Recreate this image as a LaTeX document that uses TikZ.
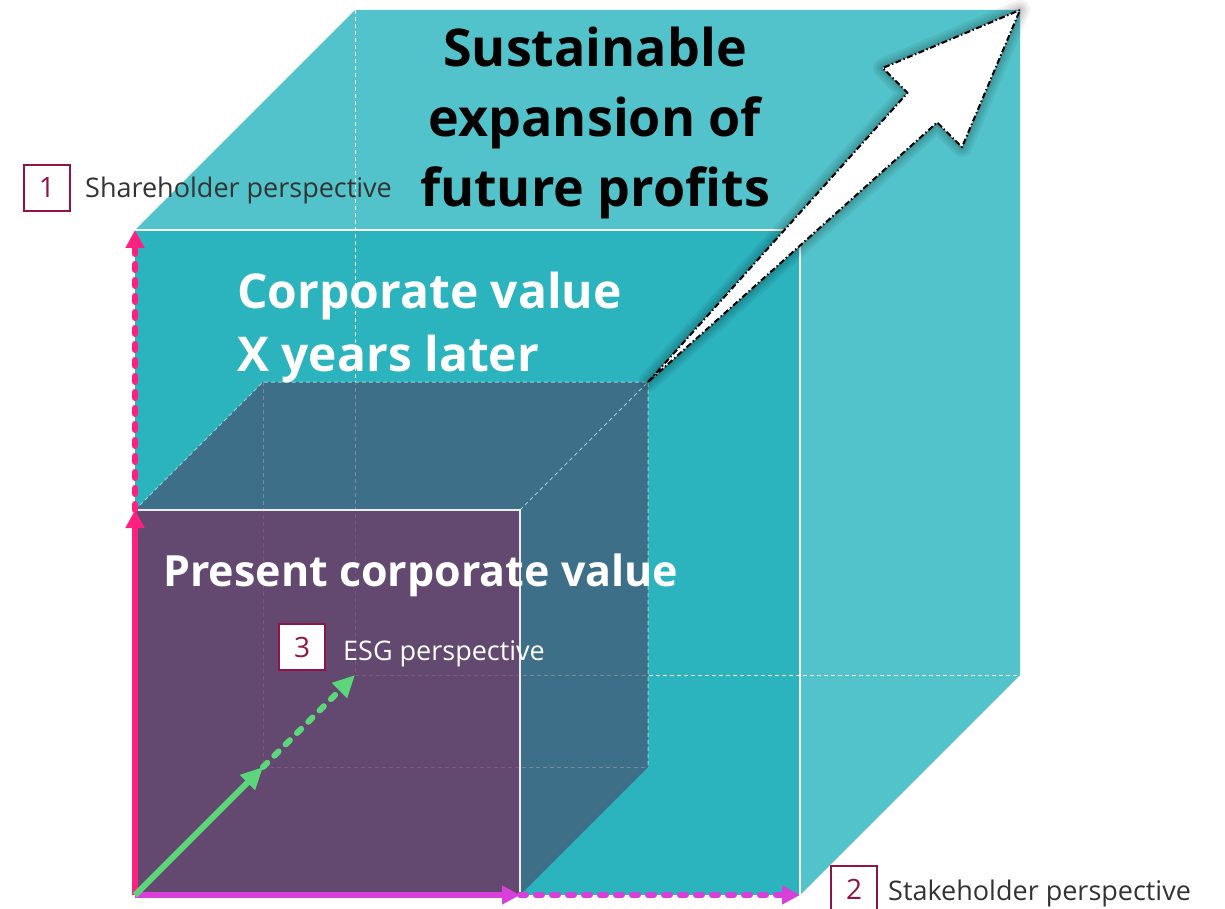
\documentclass[tikz,border=0pt]{standalone}
\usepackage{fontspec}
\setmainfont{Open Sans}
\usetikzlibrary{arrows.meta}
\definecolor{tealL}{HTML}{52C3CA}
\definecolor{tealD}{HTML}{2BB3BE}
\definecolor{purp}{RGB}{109,55,98}
\definecolor{slate}{RGB}{70,83,114}
\definecolor{pinkA}{HTML}{FF2080}
\definecolor{magA}{HTML}{D93FD9}
\definecolor{greenA}{HTML}{5CD67A}
\definecolor{crim}{HTML}{8E1545}
\definecolor{txtg}{HTML}{333333}
\definecolor{edgeL}{HTML}{8FD3D8}
\tikzset{
  backdash/.style={white, line width=1pt, dash pattern=on 4pt off 3pt},
  lightdash/.style={edgeL, line width=1pt, dash pattern=on 4pt off 3pt},
  axsolid/.style={line width=6pt, -{Triangle[length=18pt,width=18pt]}},
  axdash/.style={line width=6pt, line cap=round, dash pattern=on 6pt off 10pt, -{Triangle[length=18pt,width=18pt]}},
  numbox/.style={draw=crim, line width=2pt, fill=white, minimum size=46pt, inner sep=0pt, text=crim, font=\fontsize{28}{28}\selectfont},
  lbl/.style={anchor=base west, inner sep=0pt, font=\fontsize{27}{30}\selectfont},
  bigarrow/.style={line join=round},
}
\begin{document}
\begin{tikzpicture}[x=1pt,y=-1pt]
\useasboundingbox (0,0) rectangle (1225,909);
% large cube corners
\coordinate (LA) at (135,230);
\coordinate (LB) at (800,230);
\coordinate (LC) at (800,895);
\coordinate (LD) at (135,895);
\coordinate (LE) at (355,10);
\coordinate (LF) at (1020,10);
\coordinate (LG) at (1020,675);
\coordinate (LH) at (355,675);
% small cube corners
\coordinate (SA) at (135,510);
\coordinate (SB) at (520,510);
\coordinate (SC) at (520,895);
\coordinate (SE) at (263,382);
\coordinate (SF) at (648,382);
\coordinate (SG) at (648,767);
\coordinate (SH) at (263,767);
% big arrow points
\coordinate (AJ1) at (907.6,92.8);
\coordinate (AB1) at (882.8,68);
\coordinate (AB2) at (962,147.2);
\coordinate (AJ2) at (937.2,122.4);

% large cube
\fill[tealL] (LA) -- (LE) -- (LF) -- (LG) -- (LC) -- (LB) -- cycle;
\fill[tealD] (LA) rectangle (LC);
\draw[backdash] (LE) -- (LH) -- (LG);
\draw[white, line width=2pt] (LA) -- (LB) -- (LC);

% small cube
\draw[backdash] (SE) -- (SH) -- (SG);
\fill[slate, opacity=0.7] (SA) -- (SE) -- (SF) -- (SG) -- (SC) -- (SB) -- cycle;
\fill[purp, opacity=0.85] (SA) rectangle (SC);
\draw[lightdash] (SA) -- (SE) -- (SF) -- (SG);
\draw[lightdash] (SB) -- (SF);
\draw[white!85!gray, line width=1.2pt] (SA) -- (SB) -- (SC);

% big arrow with soft shadow
\foreach \w in {20,15,11,7,4}{
  \draw[bigarrow, black, opacity=0.05, line width=\w pt] (SF) -- (AJ1) -- (AB1) -- (LF) -- (AB2) -- (AJ2) -- cycle;
}
\fill[white] (SF) -- (AJ1) -- (AB1) -- (LF) -- (AB2) -- (AJ2) -- cycle;
\draw[bigarrow, black, line width=2pt, dash pattern=on 6pt off 2.5pt on 1.5pt off 2.5pt] (SF) -- (AJ1) -- (AB1) -- (LF) -- (AB2) -- (AJ2) -- cycle;

% axes arrows
\draw[axsolid, pinkA] (LD) -- (SA);
\draw[axdash, pinkA] (SA) -- (LA);
\draw[axsolid, magA] (LD) -- (SC);
\draw[axdash, magA] (SC) -- (LC);
\draw[axsolid, greenA, -{Triangle[length=22pt,width=20pt]}] (LD) -- (SH);
\draw[axdash, greenA, -{Triangle[length=22pt,width=20pt]}] (SH) -- (LH);

% texts (base anchor = last line baseline)
\node[anchor=base, align=center, inner sep=0pt, font=\fontsize{52}{70}\selectfont\bfseries] (title) at (595,207) {Sustainable\\expansion of\\future profits};
\node[anchor=base west, align=left, inner sep=0pt, text=white, font=\fontsize{48}{63}\selectfont\bfseries] (later) at (237,371) {Corporate value\\X years later};
\node[anchor=base west, inner sep=0pt, text=white, font=\fontsize{43}{50}\selectfont\bfseries] (present) at (163,586) {Present corporate value};

% labels
\node[numbox] (n1) at (47,188) {1};
\node[lbl, text=txtg] (l1) at (85,198) {Shareholder perspective};
\node[numbox] (n2) at (854,889) {2};
\node[lbl, text=txtg] (l2) at (888,900) {Stakeholder perspective};
\node[numbox] (n3) at (302,647) {3};
\node[lbl, text=white] (l3) at (343,660) {ESG perspective};
\end{tikzpicture}
\end{document}
